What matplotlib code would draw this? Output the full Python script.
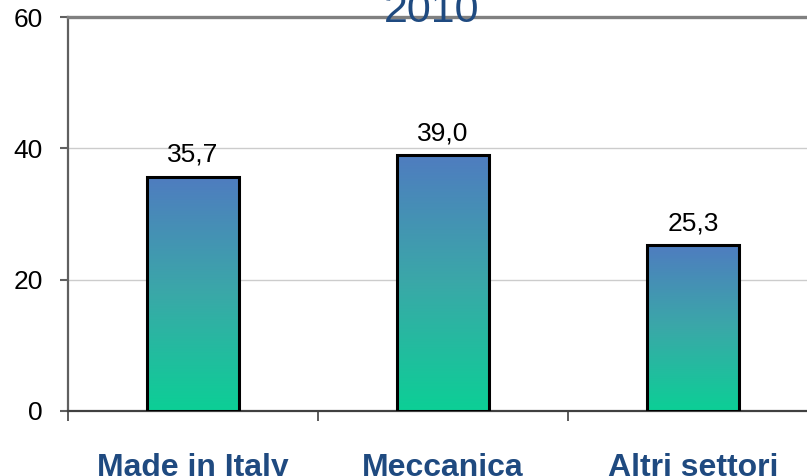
import numpy as np
import matplotlib
matplotlib.use("Agg")
import matplotlib.pyplot as plt
from matplotlib.colors import LinearSegmentedColormap
from matplotlib.transforms import blended_transform_factory

plt.rcParams["font.family"] = ["Liberation Sans", "DejaVu Sans"]

categories = ["Made in Italy", "Meccanica", "Altri settori"]
values = [35.7, 39.0, 25.3]
value_labels = ["35,7", "39,0", "25,3"]
y_ticks = [0, 20, 40, 60]
title = "2010"

NAVY = "#1F4A80"
grad = LinearSegmentedColormap.from_list("bar_grad", ["#0CCF96", "#3AA8A8", "#4F7CC0"])

fig = plt.figure(figsize=(8.07, 4.76), dpi=100)
ax = fig.add_axes([68 / 807, 65 / 476, 750 / 807, 394 / 476])

x = np.arange(len(categories)) + 0.5
width = 0.366
bars = ax.bar(x, values, width=width, facecolor="none", edgecolor="black",
              linewidth=2.2, zorder=4)

# vertical gradient fill clipped to each bar
ramp = np.linspace(0, 1, 256).reshape(-1, 1)
for b in bars:
    x0, y0 = b.get_x(), b.get_y()
    w, h = b.get_width(), b.get_height()
    im = ax.imshow(ramp, cmap=grad, origin="lower", aspect="auto",
                   extent=[x0, x0 + w, y0, y0 + h], zorder=3)
    im.set_clip_path(b)

for xi, v, lab in zip(x, values, value_labels):
    ax.annotate(lab, (xi, v), xytext=(0, 7), textcoords="offset points",
                ha="center", va="bottom", fontsize=19, color="black")

ax.set_xlim(0, 3)
ax.set_ylim(0, 60)
ax.set_yticks(y_ticks)
ax.set_yticklabels([str(t) for t in y_ticks], fontsize=19)
ax.set_xticks([0, 1, 2, 3])
ax.set_xticklabels([])
ax.tick_params(axis="y", direction="out", length=6, width=1.5, color="#606060", pad=12)
ax.tick_params(axis="x", direction="out", length=7, width=1.2, color="#404040")

for yv in (20, 40):
    ax.axhline(yv, color="#CCCCCC", linewidth=1.0, zorder=1)

ax.spines["right"].set_visible(False)
ax.spines["top"].set_color("#808080")
ax.spines["top"].set_linewidth(2.4)
ax.spines["left"].set_color("#606060")
ax.spines["left"].set_linewidth(1.6)
ax.spines["bottom"].set_color("#404040")
ax.spines["bottom"].set_linewidth(1.6)

trans = blended_transform_factory(ax.transData, ax.transAxes)
for xi, cat in zip(x, categories):
    ax.text(xi, -0.145, cat, transform=trans, ha="center", va="center",
            fontsize=23, fontweight="bold", color=NAVY)

fig.text(432 / 807, 1 - 22 / 476, title, ha="center", va="baseline",
         fontsize=31, color=NAVY)

fig.savefig("out.png", dpi=100)
